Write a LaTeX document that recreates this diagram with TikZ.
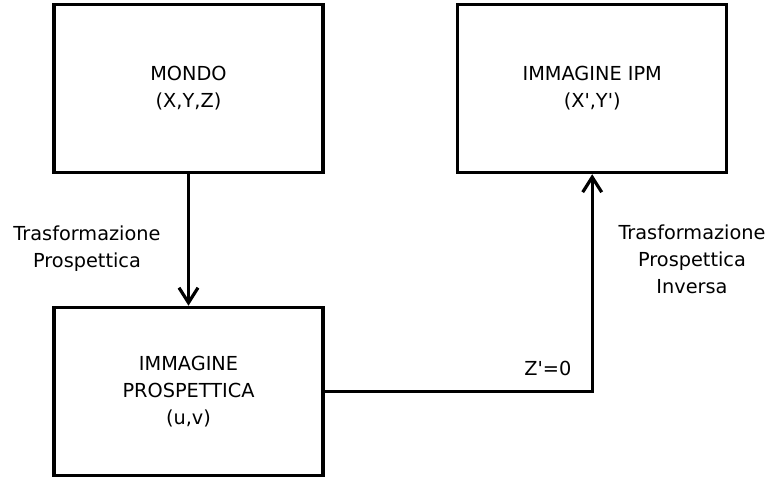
\documentclass[tikz,border=0pt]{standalone}
\usepackage{fontspec}
\setmainfont{DejaVu Sans}
\usetikzlibrary{arrows.meta,positioning}

\begin{document}
\begin{tikzpicture}[x=1pt,y=-1pt,node distance = 131.5pt and 131.5pt,
    block/.style={rectangle,draw=black,line width=3.2pt,minimum width=269pt,minimum height=168pt,align=center,font=\fontsize{19.3}{27}\selectfont},
    txt/.style={align=center,font=\fontsize{19.3}{27}\selectfont},
    conn/.style={line width=3.2pt,-{Straight Barb[length=15pt,width=19pt]}},
   ]
    \useasboundingbox (0,0) rectangle (769,477);

    \node (mondo) [block] at (188.5,88.6) { MONDO\\(X,Y,Z) };
    \node (ipm)   [block,right=of mondo] { IMMAGINE IPM\\(X\textquotesingle,Y\textquotesingle) };
    \node (prosp) [block,below=of mondo] { IMMAGINE\\PROSPETTICA\\(u,v) };

    \node (tp)  [txt] at (87,249)  { Trasformazione\\Prospettica };
    \node (tpi) [txt] at (692,259) { Trasformazione\\Prospettica\\Inversa };
    \node (zero) [txt,anchor=base] at (551,375) { Z\textquotesingle=0 };

    \draw[conn] (mondo.south) -- (prosp.north);
    \draw[conn] (prosp.east) -| (ipm.south);
\end{tikzpicture}
\end{document}
